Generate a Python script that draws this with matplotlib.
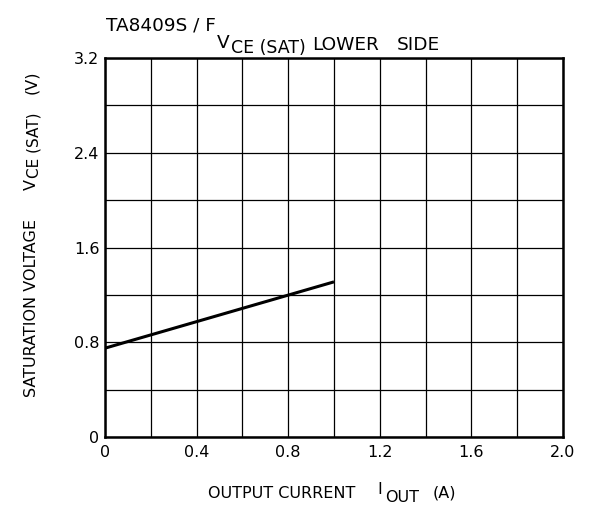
import matplotlib
matplotlib.use("Agg")
import matplotlib.pyplot as plt
import numpy as np

# data
iout = [0.0, 1.0]
vce_sat = [0.75, 1.31]
x_ticks = [0, 0.4, 0.8, 1.2, 1.6, 2.0]
x_tick_labels = ["0", "0.4", "0.8", "1.2", "1.6", "2.0"]
y_ticks = [0, 0.8, 1.6, 2.4, 3.2]
y_tick_labels = ["0", "0.8", "1.6", "2.4", "3.2"]

plt.rcParams['font.family'] = ['DejaVu Sans']

W, H = 593, 505
fig = plt.figure(figsize=(W / 100, H / 100), dpi=100)
L, R, T, B = 105, 563, 58, 437
ax = fig.add_axes([L / W, 1 - B / H, (R - L) / W, (B - T) / H])

ax.plot(iout, vce_sat, color='black', lw=2.2, solid_capstyle='butt')
ax.set_xlim(0, 2.0)
ax.set_ylim(0, 3.2)
ax.set_xticks(np.arange(0, 2.01, 0.2), minor=True)
ax.set_yticks(np.arange(0, 3.21, 0.4), minor=True)
ax.set_xticks(x_ticks)
ax.set_xticklabels(x_tick_labels)
ax.set_yticks(y_ticks)
ax.set_yticklabels(y_tick_labels)
ax.grid(True, which='both', color='black', lw=0.9)
ax.tick_params(which='both', length=0, labelsize=11.5)
ax.tick_params(axis='x', pad=6)
ax.tick_params(axis='y', pad=4)
for s in ax.spines.values():
    s.set_linewidth(1.8)
    s.set_color('black')

def ft(x, y, s, **kw):
    fig.text(x / W, 1 - y / H, s, **kw)

# titles
ft(106, 30, "TA8409S / F", fontsize=13.3, ha='left', va='baseline')
ft(217, 48, "V", fontsize=13.3, ha='left', va='baseline')
ft(231, 53, "CE (SAT)", fontsize=12.5, ha='left', va='baseline')
ft(312, 50, "LOWER", fontsize=13.3, ha='left', va='baseline')
ft(397, 50, "SIDE", fontsize=13.3, ha='left', va='baseline')

# y label pieces
ft(32, 308, "SATURATION VOLTAGE", fontsize=11.5, rotation=90, ha='center', va='center')
ft(31, 185, "V", fontsize=11.5, rotation=90, ha='center', va='center')
ft(34, 145, "CE (SAT)", fontsize=11, rotation=90, ha='center', va='center')
ft(32, 82, "(V)", fontsize=11.5, rotation=90, ha='center', va='center')

# x label pieces
ft(208, 498, "OUTPUT CURRENT", fontsize=11.5, ha='left', va='baseline')
ft(377, 494, "I", fontsize=11.5, ha='left', va='baseline')
ft(385, 502, "OUT", fontsize=11.5, ha='left', va='baseline')
ft(433, 498, "(A)", fontsize=11.5, ha='left', va='baseline')

fig.savefig("out.png", dpi=100)
